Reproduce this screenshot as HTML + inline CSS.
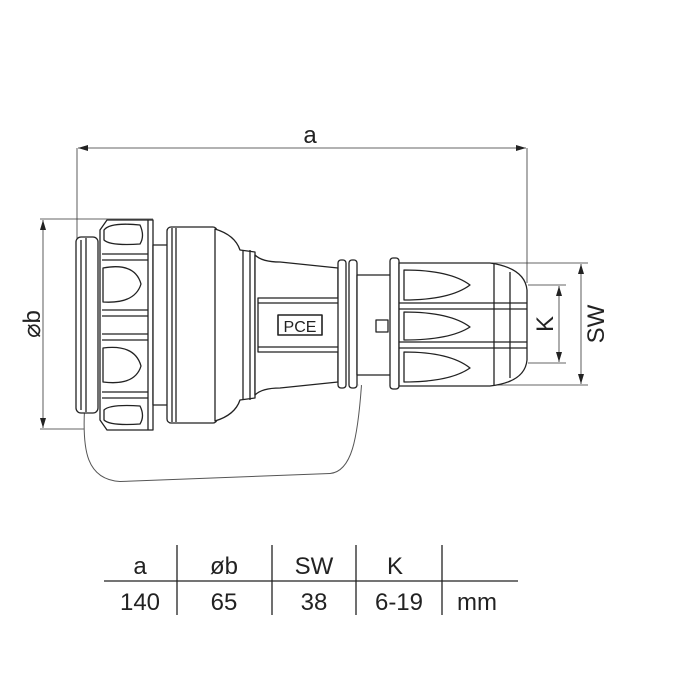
<!DOCTYPE html>
<html><head><style>html,body{margin:0;padding:0;background:#fff}svg{display:block}</style></head>
<body>
<svg width="700" height="700" viewBox="0 0 700 700" xmlns="http://www.w3.org/2000/svg" font-family="Liberation Sans, Arial, sans-serif">
<defs>
<marker id="ar" markerWidth="10" markerHeight="6" refX="10" refY="3" orient="auto-start-reverse" markerUnits="userSpaceOnUse"><path d="M0,0 L10,3 L0,6 z" fill="#222"/></marker>
</defs>
<g stroke="#333" stroke-width="0.8" fill="none">
<!-- dimension a -->
<line x1="77" y1="148" x2="77" y2="245"/>
<line x1="527" y1="148" x2="527" y2="283"/>
<line x1="78" y1="148" x2="526" y2="148" marker-start="url(#ar)" marker-end="url(#ar)"/>
<!-- dimension b -->
<line x1="40" y1="219" x2="153" y2="219"/>
<line x1="40" y1="429" x2="100" y2="429"/>
<line x1="43" y1="220" x2="43" y2="428" marker-start="url(#ar)" marker-end="url(#ar)"/>
<!-- K / SW -->
<line x1="528" y1="285" x2="566" y2="285"/>
<line x1="528" y1="363" x2="566" y2="363"/>
<line x1="470" y1="263" x2="588" y2="263"/>
<line x1="470" y1="385" x2="588" y2="385"/>
<line x1="559" y1="286" x2="559" y2="362" marker-start="url(#ar)" marker-end="url(#ar)"/>
<line x1="581" y1="264" x2="581" y2="384" marker-start="url(#ar)" marker-end="url(#ar)"/>
</g>
<g fill="#222" font-size="24">
<text x="310" y="143" text-anchor="middle">a</text>
<text transform="translate(40,324) rotate(-90)" text-anchor="middle">⌀b</text>
<text transform="translate(553,324) rotate(-90)" text-anchor="middle">K</text>
<text transform="translate(604,324) rotate(-90)" text-anchor="middle">SW</text>
</g>
<!-- drawing -->
<g stroke="#222" stroke-width="1.3" fill="#fff" stroke-linejoin="round">
<!-- cable -->
<path d="M86 410 C84 450 88 478 120 480 L330 472 C350 470 356 440 360 385" stroke-width="4" stroke="#555"/>
<path d="M86 410 C84 450 88 478 120 480 L330 472 C350 470 356 440 360 385" stroke-width="2" stroke="#fff"/>
<!-- front lip -->
<rect x="76" y="237" width="22" height="176" rx="5"/>
<line x1="81" y1="240" x2="81" y2="410"/>
<line x1="86" y1="238" x2="86" y2="412"/>
<!-- nut -->
<path d="M107 220 L153 220 L153 430 L107 430 L100 420 L100 230 Z"/>
<line x1="148" y1="220" x2="148" y2="430"/>
<!-- grip lobes -->
<path d="M104 230 Q110 222 140 225 Q145 236 140 244 Q110 246 104 240 Z"/>
<path d="M103 268 Q135 262 141 284 Q135 304 103 302 Z"/>
<path d="M103 348 Q135 344 141 366 Q135 386 103 382 Z"/>
<path d="M104 410 Q110 404 140 406 Q145 416 140 424 Q110 426 104 420 Z"/>
<line x1="102" y1="254" x2="148" y2="254"/><line x1="102" y1="260" x2="148" y2="260"/>
<line x1="102" y1="310" x2="148" y2="310"/><line x1="102" y1="316" x2="148" y2="316"/>
<line x1="102" y1="334" x2="148" y2="334"/><line x1="102" y1="340" x2="148" y2="340"/>
<line x1="102" y1="392" x2="148" y2="392"/><line x1="102" y1="398" x2="148" y2="398"/>
<!-- neck -->
<rect x="153" y="245" width="15" height="160"/>
<!-- body -->
<rect x="167" y="227" width="50" height="196" rx="4"/>
<line x1="172" y1="228" x2="172" y2="422"/><line x1="176" y1="228" x2="176" y2="422"/>
<path d="M215 229 Q235 235 240 250 L255 252 L255 398 L240 400 Q235 415 215 421 Z"/>
<line x1="243" y1="250" x2="243" y2="400"/><line x1="250" y1="250" x2="250" y2="400"/>
<!-- cone -->
<path d="M255 255 Q262 262 280 262 L338 268 L338 382 L280 388 Q262 388 255 395 Z"/>
<path d="M258 298 L340 298 L340 352 L258 352 Z"/>
<line x1="258" y1="303" x2="340" y2="303"/><line x1="258" y1="347" x2="340" y2="347"/>
<rect x="278" y="315" width="44" height="20" stroke-width="1.6"/>
<!-- flanges -->
<rect x="338" y="260" width="8" height="128" rx="3"/>
<rect x="349" y="260" width="8" height="128" rx="3"/>
<rect x="357" y="275" width="34" height="100"/>
<rect x="376" y="320" width="12" height="12"/>
<rect x="390" y="258" width="9" height="131" rx="3"/>
<!-- cage -->
<path d="M399 263 L490 263 Q525 268 527 290 L527 360 Q525 382 490 386 L399 386 Z"/>
<line x1="399" y1="303" x2="527" y2="303"/><line x1="399" y1="309" x2="527" y2="309"/>
<line x1="399" y1="342" x2="527" y2="342"/><line x1="399" y1="348" x2="527" y2="348"/>
<line x1="494" y1="264" x2="494" y2="385"/><line x1="510" y1="272" x2="510" y2="378"/>
<path d="M404 270 Q450 270 470 285 Q450 300 404 300 Z"/>
<path d="M404 312 Q450 312 470 327 Q450 340 404 340 Z"/>
<path d="M404 352 Q450 352 470 368 Q450 382 404 382 Z"/>
</g>
<text x="300" y="332" font-size="16" text-anchor="middle" fill="#222">PCE</text>
<!-- table -->
<g stroke="#222" stroke-width="1.3">
<line x1="104" y1="581" x2="518" y2="581"/>
<line x1="177" y1="545" x2="177" y2="615"/>
<line x1="272" y1="545" x2="272" y2="615"/>
<line x1="356" y1="545" x2="356" y2="615"/>
<line x1="442" y1="545" x2="442" y2="615"/>
</g>
<g fill="#222" font-size="24" text-anchor="middle">
<text x="140" y="574">a</text><text x="224" y="574">øb</text><text x="314" y="574">SW</text><text x="395" y="574">K</text>
<text x="140" y="610">140</text><text x="224" y="610">65</text><text x="314" y="610">38</text><text x="399" y="610">6-19</text><text x="477" y="610">mm</text>
</g>
</svg>
</body></html>
